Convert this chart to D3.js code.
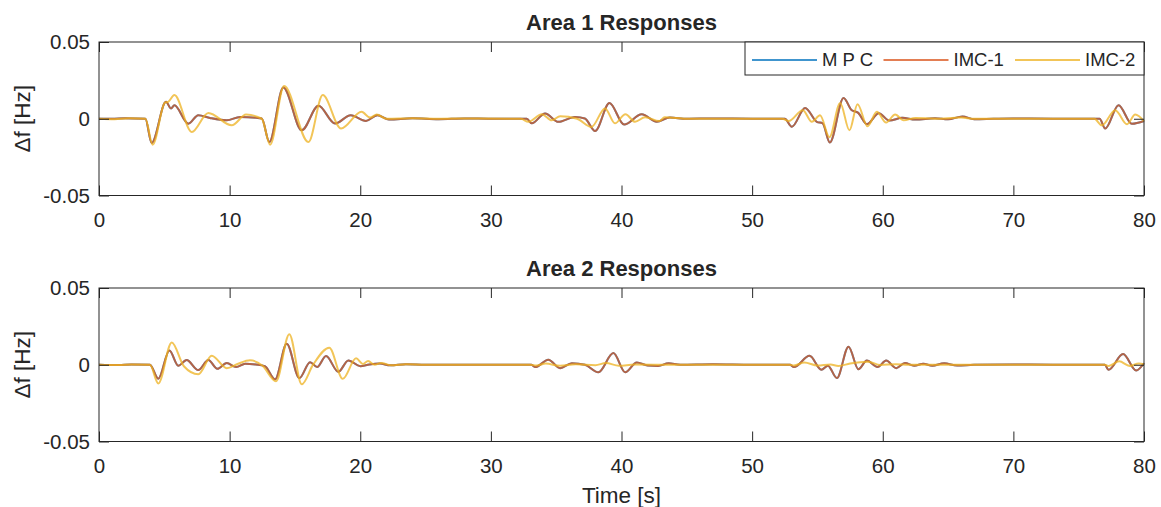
<!DOCTYPE html>
<html>
<head>
<meta charset="utf-8">
<script src="https://cdn.jsdelivr.net/npm/d3@7"></script>
<style>
  body { margin: 0; background: #fff; }
  text { font-family: "Liberation Sans", Arial, Helvetica, sans-serif; fill: #262626; }
</style>
</head>
<body>
<div id="chart"></div>
<script>
// values, [time (s), delta f (Hz)]
var xTicks = [0, 10, 20, 30, 40, 50, 60, 70, 80]
var yTicks = [-0.05, 0, 0.05]
var yTickLabels = ['-0.05', '0', '0.05']
var seriesNames = ['M P C', 'IMC-1', 'IMC-2']
var panelTitles = ['Area 1 Responses', 'Area 2 Responses']

var area1Imc1 = [[0,0],[1,0],[2,0.0003],[3.55,0],[4.03,-0.0158],[5.13,0.011],[5.51,0.0067],[5.77,0.0088],
  [6.84,-0.0032],[7.6,0.0023],[8.5,0.0005],[9.78,-0.001],[10.8,0.0012],[12.46,0.0002],[13.04,-0.0152],
  [14.11,0.0204],[15.52,-0.0075],[16.8,0.0085],[18.07,-0.0031],[19.27,0.0023],[20.44,-0.0014],[21.31,0.0023],
  [22.2,-0.0005],[24,0.0003],[26,-0.0003],[28,0.0002],[30,0],[32.75,0],[33.13,-0.003],[34.15,0.0034],
  [35.17,-0.002],[36.45,0.0012],[37.2,0.0002],[37.98,-0.008],[39.08,0.0103],[40.2,-0.0038],[41.55,0.0029],
  [42.7,-0.002],[43.7,0.0008],[45,0],[47,0.0002],[50,0],[52.5,0],[53.04,-0.0052],[54.06,0.007],[54.95,-0.002],
  [55.4,-0.003],[55.95,-0.0155],[57,0.0135],[57.63,0.0055],[58.1,0.004],[58.8,-0.0035],[59.7,0.0036],
  [60.5,-0.0012],[61.5,0.0006],[62.5,-0.0005],[64,0.0003],[65,-0.0004],[66.1,0.0015],[67,-0.0003],[68.5,0],
  [70,0.0002],[73,0],[76.6,0],[77.03,-0.0064],[78.05,0.0088],[79.07,-0.0033],[80,-0.0015]]
// MPC lies right under IMC-1 over the whole run
var area1Mpc = area1Imc1
var area1Imc2 = [[0,0],[1.2,-0.0003],[2.3,0.0003],[3.55,0],[4.11,-0.0169],[5.05,0.0105],[5.3,0.011],
  [5.77,0.0154],[7.1,-0.0086],[8.37,0.0038],[10.16,-0.0043],[11.26,0.0027],[12.46,0],[13.1,-0.0169],
  [14.17,0.0213],[16.03,-0.0152],[17.13,0.0154],[18.53,-0.0064],[20.1,0.0045],[20.75,0.0008],[21.26,0.0027],
  [22,0],[24,0.0003],[26,0],[29,0.0002],[32.3,0],[32.87,-0.002],[33.9,0.003],[34.66,-0.001],[35.3,0.0016],
  [36.6,0],[37.7,-0.0053],[38.74,0.0067],[39.5,-0.003],[40.3,0.003],[41.04,-0.002],[41.8,0.001],
  [42.9,-0.0015],[43.3,0.001],[45,0],[52.3,0],[52.8,-0.0015],[53.88,0.0056],[54.57,-0.002],[55.2,0.0022],
  [55.92,-0.012],[56.74,0.0103],[57.45,-0.0075],[58.07,0.0095],[58.83,-0.0049],[59.55,0.0045],[60.26,-0.0025],
  [60.95,0.0028],[61.6,-0.001],[62.5,0.0005],[64,0],[66,0.0008],[67,0],[70,0],[76.2,0],[76.77,-0.0043],
  [77.8,0.0056],[78.7,-0.0036],[79.33,0.0028],[80,-0.0015]]

var area2Imc1 = [[0,0],[1.5,-0.0002],[2.5,0.0002],[3.9,0],[4.54,-0.0091],[5.39,0.0093],[6.07,-0.0006],
  [6.71,0.0031],[7.6,-0.0035],[8.37,0.0031],[9.06,-0.0026],[9.78,0.0011],[10.5,-0.0015],[11.2,0.0007],
  [12,0.0001],[12.7,-0.001],[13.48,-0.0095],[14.37,0.0137],[15.34,-0.0087],[16.16,0.0017],[16.7,-0.0015],
  [17.38,0.0057],[18.32,-0.0046],[19.09,0.0028],[20,-0.0009],[20.7,0.0002],[21.5,0.0008],[22.3,-0.0004],
  [23.5,0.0003],[25,0],[33.1,0],[33.4,-0.0015],[34.4,0.0033],[35.3,-0.0022],[36.2,0.001],[37.2,0],
  [38.23,-0.0049],[39.38,0.0076],[40.28,-0.0049],[41.17,0.0015],[42,-0.0005],[42.8,-0.0008],[43.6,0.001],
  [44.5,0],[47,0.0003],[50,0],[52.9,0],[53.2,-0.0015],[54.4,0.0058],[55.3,-0.0033],[55.8,-0.0006],
  [56.49,-0.0087],[57.38,0.0118],[58.14,-0.0029],[58.78,0.0027],[59.6,-0.0015],[60.26,0.0027],[61.03,-0.0022],
  [61.7,0.0011],[62.4,-0.0006],[63.1,0.0006],[63.8,-0.0006],[64.7,0.0009],[65.7,-0.0005],[67,0],[70,0.0002],
  [73,0],[77,0],[77.28,-0.0033],[78.4,0.007],[79.4,-0.0037],[80,0.001]]
var area2Mpc = area2Imc1
var area2Imc2 = [[0,0],[1.5,-0.0002],[2.5,0.0002],[3.9,0],[4.54,-0.0122],[5.57,0.0145],[6.5,-0.001],
  [7.6,-0.0062],[8.63,0.0059],[9.78,-0.0022],[10.6,0.0005],[11.56,0.0029],[12.5,-0.0005],[13.55,-0.0108],
  [14.57,0.0199],[15.52,-0.0127],[16.4,0.0002],[17.63,0.0111],[18.66,-0.0092],[19.68,0.0042],[20.2,0.0005],
  [20.6,0.0024],[21.1,0],[21.6,0.0012],[22.4,-0.0004],[23.5,0.0003],[25,0],[33,0],[33.5,-0.0005],
  [34.2,0.0008],[35.3,-0.0007],[36.5,0.0003],[38,-0.0003],[38.8,0.0011],[39.8,-0.0006],[41,0.0001],[44,0],
  [52.9,0],[53.2,-0.0005],[54,0.0015],[55,-0.0005],[56,0.0002],[56.6,-0.0008],[57.5,0.0008],[58.9,0.002],
  [59.8,-0.0002],[61,0.0004],[62,0],[77,0],[77.3,-0.0008],[78.1,0.0022],[78.9,-0.0008],[79.6,0.0008],[80,0.0004]]

var colors = ['#0072BD', '#D95319', '#EDB120']

var width = 1161
var height = 507
var left = 99, right = 1144
var panelTops = [42, 288]
var panelH = 153.5

var svg = d3.select('#chart').append('svg')
            .attr('width', width)
            .attr('height', height)

svg.append('rect').attr('width', width).attr('height', height).attr('fill', '#fff')

var x = d3.scaleLinear().domain([0, 80]).range([left, right])

var panels = [
  {title: panelTitles[0], series: [area1Mpc, area1Imc1, area1Imc2]},
  {title: panelTitles[1], series: [area2Mpc, area2Imc1, area2Imc2]}
]

panels.forEach((p, i) => {
  var top = panelTops[i]
  var bottom = top + panelH
  var y = d3.scaleLinear().domain([-0.05, 0.05]).range([bottom, top])
  var g = svg.append('g')

  var line = d3.line()
               .x((d) => x(d[0]))
               .y((d) => y(d[1]))
               .curve(d3.curveMonotoneX)

  p.series.forEach((s, k) => {
    g.append('path')
     .attr('d', line(s))
     .attr('fill', 'none')
     .attr('stroke', colors[k])
     .attr('stroke-opacity', 0.75)
     .attr('stroke-width', 2)
     .attr('stroke-linejoin', 'round')
  })

  // axes, ticks pointing inward like matlab
  g.append('g').attr('transform', 'translate(0,' + bottom + ')')
   .call(d3.axisBottom(x).tickValues(xTicks).tickSizeInner(-10).tickSizeOuter(0).tickPadding(17))
  g.append('g').attr('transform', 'translate(0,' + top + ')')
   .call(d3.axisTop(x).tickValues(xTicks).tickSizeInner(-10).tickSizeOuter(0).tickFormat(''))
  g.append('g').attr('transform', 'translate(' + left + ',0)')
   .call(d3.axisLeft(y).tickValues(yTicks).tickSizeInner(-10).tickSizeOuter(0).tickPadding(9)
           .tickFormat((d, j) => yTickLabels[j]))
  g.append('g').attr('transform', 'translate(' + right + ',0)')
   .call(d3.axisRight(y).tickValues(yTicks).tickSizeInner(-10).tickSizeOuter(0).tickFormat(''))

  g.selectAll('.domain').remove()
  g.selectAll('.tick line').attr('stroke', '#262626').attr('stroke-width', 1)
  g.selectAll('.tick text').attr('font-size', 20.5).attr('fill', '#262626')
   .attr('font-family', '"Liberation Sans", Arial, sans-serif')

  g.append('rect')
   .attr('x', left).attr('y', top)
   .attr('width', right - left).attr('height', panelH)
   .attr('fill', 'none').attr('stroke', '#262626').attr('stroke-width', 1)

  g.append('text')
   .attr('x', (left + right) / 2).attr('y', top - 12)
   .attr('text-anchor', 'middle')
   .attr('font-size', 22).attr('font-weight', 'bold')
   .text(p.title)

  g.append('text')
   .attr('transform', 'translate(22,' + (top + panelH / 2) + ') rotate(-90)')
   .attr('text-anchor', 'middle')
   .attr('dy', '0.35em')
   .attr('font-size', 22.5)
   .text('\u0394f [Hz]')

  if (i === 0) {
    // legend box in the top right corner
    var lg = g.append('g')
    lg.append('rect')
      .attr('x', 745).attr('y', top)
      .attr('width', right - 745).attr('height', 33)
      .attr('fill', '#fff').attr('stroke', '#262626').attr('stroke-width', 1)
    seriesNames.forEach((name, k) => {
      var x0 = 752 + k * 131.5
      lg.append('line')
        .attr('x1', x0).attr('x2', x0 + 65)
        .attr('y1', top + 18).attr('y2', top + 18)
        .attr('stroke', colors[k]).attr('stroke-opacity', 0.75).attr('stroke-width', 2)
      lg.append('text')
        .attr('x', x0 + 70).attr('y', top + 18)
        .attr('dy', '0.35em')
        .attr('font-size', 18.5)
        .text(name)
    })
  }

  if (i === 1) {
    g.append('text')
     .attr('x', (left + right) / 2).attr('y', 503)
     .attr('text-anchor', 'middle')
     .attr('font-size', 22.5)
     .text('Time [s]')
  }
})
</script>
</body>
</html>
